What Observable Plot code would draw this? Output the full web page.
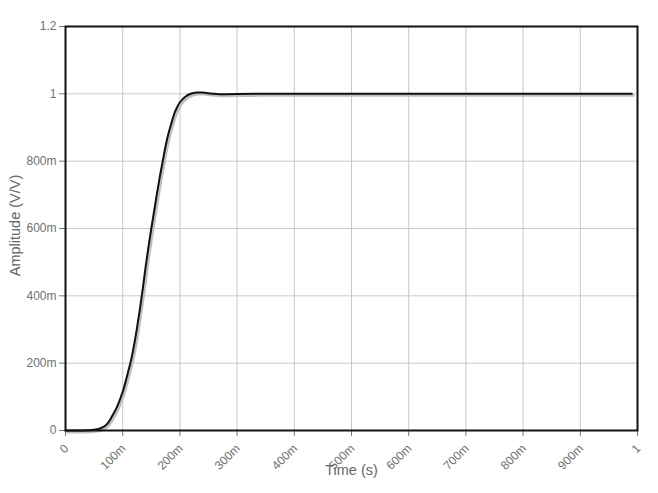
<!DOCTYPE html>
<html>
<head>
<meta charset="utf-8">
<script src="https://cdn.jsdelivr.net/npm/d3@7"></script>
<script src="https://cdn.jsdelivr.net/npm/@observablehq/plot@0.6"></script>
<style>
  html, body { margin: 0; padding: 0; background: #fff; }
  #chart svg { display: block; }
</style>
</head>
<body>
<div id="chart"></div>
<script>
const times = [0, 0.03, 0.04, 0.05, 0.06, 0.07, 0.075, 0.08, 0.09, 0.1, 0.105, 0.11, 0.115, 0.12, 0.125, 0.13, 0.135, 0.14, 0.145, 0.15, 0.155, 0.16, 0.165, 0.17, 0.175, 0.18, 0.185, 0.19, 0.195, 0.2, 0.21, 0.22, 0.23, 0.24, 0.25, 0.26, 0.27, 0.28, 0.3, 0.35, 0.4, 0.5, 0.6, 0.7, 0.8, 0.9, 0.99];
const amplitudes = [0, 0, 0.0005, 0.002, 0.006, 0.015, 0.024, 0.038, 0.07, 0.115, 0.145, 0.178, 0.212, 0.255, 0.305, 0.36, 0.42, 0.485, 0.545, 0.6, 0.652, 0.705, 0.755, 0.8, 0.845, 0.882, 0.912, 0.94, 0.96, 0.975, 0.992, 1.001, 1.004, 1.004, 1.002, 1.0, 0.999, 0.999, 0.9995, 1.0, 1.0, 1.0, 1.0, 1.0, 1.0, 1.0, 1.0];
const xTickValues = [0, 0.1, 0.2, 0.3, 0.4, 0.5, 0.6, 0.7, 0.8, 0.9, 1];
const yTickValues = [0, 0.2, 0.4, 0.6, 0.8, 1, 1.2];
const xLabel = "Time (s)";
const yLabel = "Amplitude (V/V)";

const data = times.map((t, i) => ({t, v: amplitudes[i]}));
const fmt = v => v === 0 ? "0" : (v < 1 ? Math.round(v * 1000) + "m" : String(+v.toFixed(1)));

const chart = Plot.plot({
  width: 658,
  height: 493,
  marginLeft: 65,
  marginRight: 21,
  marginTop: 26,
  marginBottom: 63,
  style: {fontFamily: "'Liberation Sans', Arial, sans-serif", background: "#fff"},
  x: {domain: [0, 1]},
  y: {domain: [0, 1.2]},
  marks: [
    Plot.gridX(xTickValues, {stroke: "#c8c8c8", strokeOpacity: 1, strokeWidth: 1}),
    Plot.gridY(yTickValues, {stroke: "#c8c8c8", strokeOpacity: 1, strokeWidth: 1}),
    Plot.axisY(yTickValues, {tickFormat: () => "", tickSize: 6, stroke: "#777", label: null}),
    Plot.axisX(xTickValues, {tickFormat: () => "", tickSize: 6, stroke: "#777", label: null}),
    Plot.text(yTickValues, {y: d => d, text: fmt, frameAnchor: "left", dx: -9, textAnchor: "end", fill: "#707070", fontSize: 12}),
    Plot.text(xTickValues, {x: d => d, text: fmt, frameAnchor: "bottom", dx: 1, dy: 16, rotate: -45, textAnchor: "end", lineAnchor: "middle", fill: "#707070", fontSize: 12}),
    Plot.line(data, {x: "t", y: "v", stroke: "#c0c0c0", strokeWidth: 3, dx: 1.5, dy: 1.5, curve: "catmull-rom"}),
    Plot.line(data, {x: "t", y: "v", stroke: "#111", strokeWidth: 2, curve: "catmull-rom"}),
    Plot.frame({stroke: "#111", strokeWidth: 2}),
    Plot.text([xLabel], {frameAnchor: "bottom", dy: 44, fill: "#666", fontSize: 14.5, textAnchor: "middle"}),
    Plot.text([yLabel], {frameAnchor: "left", dx: -50, dy: -3, rotate: -90, fill: "#666", fontSize: 14.5, textAnchor: "middle"})
  ]
});
document.getElementById("chart").appendChild(chart);
</script>
</body>
</html>
